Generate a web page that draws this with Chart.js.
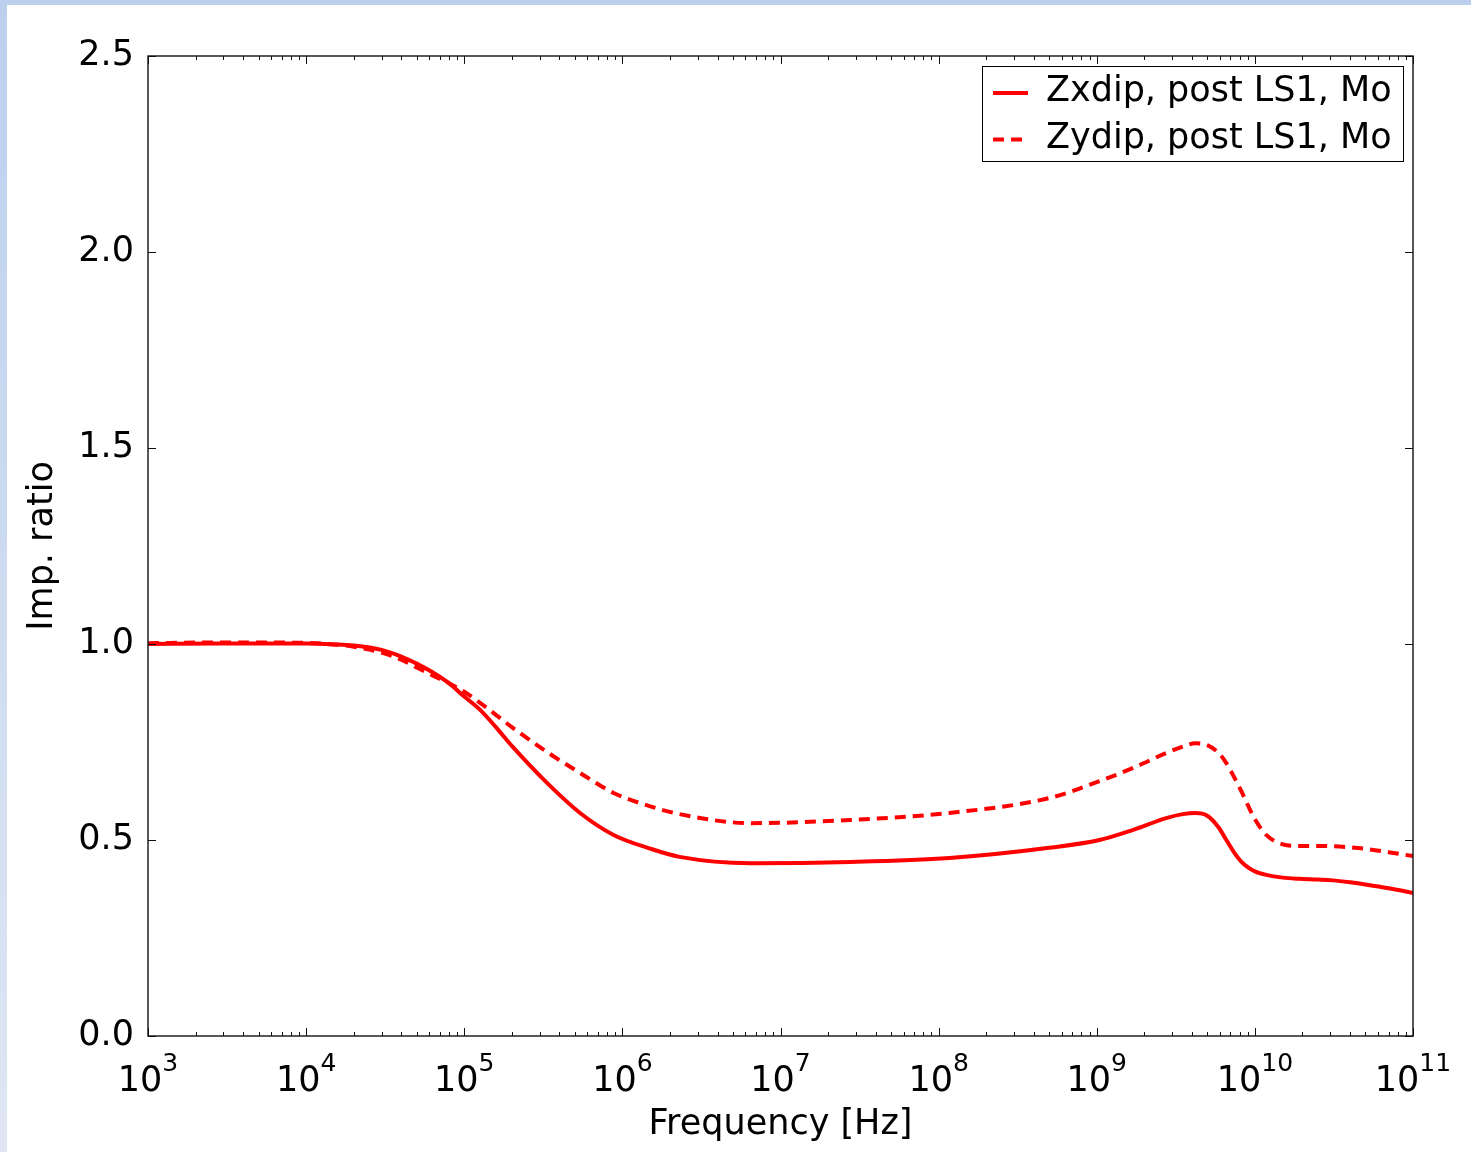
<!DOCTYPE html>
<html>
<head>
<meta charset="utf-8">
<script src="https://cdn.jsdelivr.net/npm/chart.js@4.4.0/dist/chart.umd.min.js"></script>
<style>
  html, body { margin: 0; padding: 0; background: #fff; }
  #wrap { position: relative; width: 1471px; height: 1152px; overflow: hidden; }
  #topband { position: absolute; left: 0; top: 0; width: 1471px; height: 5px; background: #bcd0ee; }
  #leftband { position: absolute; left: 0; top: 0; width: 7px; height: 1152px; background: linear-gradient(#bcd0ee, #dfe6f2); }
  canvas { position: absolute; left: 0; top: 0; }
</style>
</head>
<body>
<div id="wrap">
  <div id="topband"></div>
  <div id="leftband"></div>
  <canvas id="imp_chart" width="1471" height="1152"></canvas>
</div>
<script>
// frequency points [Hz] and impedance ratios
const freq = [1e3, 3e3, 1e4, 1.5e4, 2e4, 3e4, 4e4, 5e4, 6.3e4, 8e4, 1e5, 1.26e5, 1.6e5, 2e5, 3.35e5, 5.4e5, 8.8e5,
              1.5e6, 2.3e6, 6.5e6, 2.75e7, 1.17e8, 5e8, 1.04e9, 1.7e9, 2.75e9, 3.5e9, 4.2e9,
              5e9, 5.9e9, 6.6e9, 7.4e9, 8.2e9, 9e9, 1e10, 1.18e10, 1.5e10, 1.9e10, 2.5e10, 3.1e10, 4e10, 5.1e10, 7e10, 1e11];
const zx_ratio = [1.000, 1.001, 1.001, 0.999, 0.996, 0.985, 0.968, 0.950, 0.928, 0.900, 0.866, 0.832, 0.786, 0.740, 0.645, 0.569, 0.513,
                  0.478, 0.457, 0.441, 0.444, 0.454, 0.480, 0.500, 0.526, 0.556, 0.566, 0.569,
                  0.562, 0.532, 0.500, 0.468, 0.445, 0.431, 0.420, 0.411, 0.404, 0.401, 0.399, 0.397, 0.392, 0.386, 0.377, 0.365];
const zy_ratio = [1.002, 1.004, 1.003, 0.999, 0.993, 0.978, 0.960, 0.940, 0.920, 0.900, 0.878, 0.850, 0.818, 0.788, 0.724, 0.671, 0.620,
                  0.586, 0.566, 0.543, 0.551, 0.569, 0.607, 0.650, 0.684, 0.722, 0.738, 0.747,
                  0.742, 0.722, 0.696, 0.660, 0.625, 0.590, 0.553, 0.513, 0.489, 0.485, 0.485, 0.484, 0.481, 0.477, 0.469, 0.459];
const series_labels = ['Zxdip, post LS1, Mo', 'Zydip, post LS1, Mo'];
const x_decades = [3, 4, 5, 6, 7, 8, 9, 10, 11];
const y_ticks = [0, 0.5, 1.0, 1.5, 2.0, 2.5];

const font_family = "'DejaVu Sans', sans-serif";

const frame_plugin = {
  id: 'frame',
  afterDraw(chart) {
    const ctx = chart.ctx;
    const a = chart.chartArea;
    const xs = chart.scales.x;
    const ys = chart.scales.y;
    ctx.save();

    // axes box
    ctx.strokeStyle = '#111';
    ctx.lineWidth = 1.4;
    ctx.strokeRect(a.left, a.top, a.right - a.left, a.bottom - a.top);

    // inward ticks on all four sides
    ctx.lineWidth = 1;
    ctx.beginPath();
    xs.ticks.forEach(t => {
      const px = Math.round(xs.getPixelForValue(t.value)) + 0.5;
      const len = t.big ? 8 : 4;
      ctx.moveTo(px, a.bottom); ctx.lineTo(px, a.bottom - len);
      ctx.moveTo(px, a.top); ctx.lineTo(px, a.top + len);
    });
    ys.ticks.forEach(t => {
      const py = Math.round(ys.getPixelForValue(t.value)) + 0.5;
      ctx.moveTo(a.left, py); ctx.lineTo(a.left + 8, py);
      ctx.moveTo(a.right, py); ctx.lineTo(a.right - 8, py);
    });
    ctx.stroke();

    // x tick labels as 10 with a raised exponent
    ctx.fillStyle = '#000';
    ctx.textBaseline = 'alphabetic';
    ctx.textAlign = 'left';
    x_decades.forEach(d => {
      const px = xs.getPixelForValue(Math.pow(10, d));
      const base = '10', exp = String(d);
      ctx.font = '35px ' + font_family;
      const wb = ctx.measureText(base).width;
      ctx.font = '25px ' + font_family;
      const we = ctx.measureText(exp).width;
      const x0 = px - (wb + we) / 2;
      ctx.font = '35px ' + font_family;
      ctx.fillText(base, x0, a.bottom + 55);
      ctx.font = '25px ' + font_family;
      ctx.fillText(exp, x0 + wb, a.bottom + 35);
    });

    // legend box
    const lx = 982.5, ly = 66.5, lw = 421, lh = 95;
    ctx.fillStyle = '#fff';
    ctx.fillRect(lx, ly, lw, lh);
    ctx.strokeStyle = '#000';
    ctx.lineWidth = 1;
    ctx.strokeRect(lx, ly, lw, lh);
    chart.data.datasets.forEach((ds, i) => {
      const y = 93 + i * 46.5;
      ctx.save();
      ctx.strokeStyle = ds.borderColor;
      ctx.lineWidth = ds.borderWidth;
      ctx.setLineDash(ds.borderDash || []);
      ctx.beginPath();
      ctx.moveTo(993, y);
      ctx.lineTo(1028, y);
      ctx.stroke();
      ctx.restore();
      ctx.fillStyle = '#000';
      ctx.font = '35px ' + font_family;
      ctx.fillText(ds.label, 1046, 101 + i * 46.5);
    });
    ctx.restore();
  }
};

const imp_ctx = document.getElementById('imp_chart');

const imp_config = {
  type: 'line',
  data: {
    datasets: [{
      label: series_labels[0],
      data: freq.map((f, i) => ({x: f, y: zx_ratio[i]})),
      borderColor: '#ff0000',
      borderWidth: 4,
      pointRadius: 0,
      fill: false,
      cubicInterpolationMode: 'monotone'
    }, {
      label: series_labels[1],
      data: freq.map((f, i) => ({x: f, y: zy_ratio[i]})),
      borderColor: '#ff0000',
      borderWidth: 4,
      borderDash: [11, 7],
      pointRadius: 0,
      fill: false,
      cubicInterpolationMode: 'monotone'
    }]
  },
  options: {
    responsive: false,
    animation: false,
    layout: { padding: { top: 56, right: 58, left: 0, bottom: 0 } },
    plugins: {
      legend: { display: false },
      tooltip: { enabled: false }
    },
    scales: {
      x: {
        type: 'logarithmic',
        min: 1e3,
        max: 1e11,
        grid: { display: false },
        border: { display: false },
        ticks: { display: false },
        afterBuildTicks: scale => {
          const t = [];
          x_decades.forEach(d => {
            t.push({value: Math.pow(10, d), big: true});
            if (d < 11) {
              for (let m = 2; m <= 9; m++) t.push({value: m * Math.pow(10, d), big: false});
            }
          });
          scale.ticks = t;
        },
        afterFit: scale => { scale.height = 116; },
        title: {
          display: true,
          text: 'Frequency [Hz]',
          color: '#000',
          font: { family: font_family, size: 35 },
          padding: { top: 0, bottom: 6 }
        }
      },
      y: {
        min: 0,
        max: 2.5,
        grid: { display: false },
        border: { display: false },
        afterBuildTicks: scale => {
          scale.ticks = y_ticks.map(v => ({value: v}));
        },
        ticks: {
          color: '#000',
          padding: 6,
          font: { family: font_family, size: 35 },
          callback: v => Number(v).toFixed(1)
        },
        afterFit: scale => { scale.width = 148; },
        title: {
          display: true,
          text: 'Imp. ratio',
          color: '#000',
          font: { family: font_family, size: 35 },
          padding: { top: 22, bottom: 0 }
        }
      }
    }
  },
  plugins: [frame_plugin]
};

const imp_chart = new Chart(imp_ctx, imp_config);
</script>
</body>
</html>
